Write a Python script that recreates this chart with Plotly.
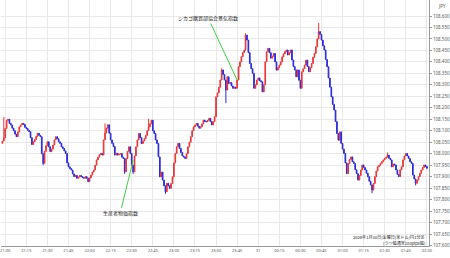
import pandas as pd
import plotly.graph_objects as go

# ---------------- data (USD/JPY 1-minute, 2026-01-30 20:58 -> 2026-01-31 02:00) ----------------
start_time = "2026-01-30 20:58"
first_open = 108.045
closes = [
    108.055, 108.070,                                                   # 20:58-20:59
    108.110, 108.145, 108.150, 108.132, 108.125, 108.111, 108.100, 108.085, 108.074, 108.095,  # 21:00
    108.117, 108.125, 108.132, 108.128, 108.115, 108.110, 108.102, 108.096, 108.070, 108.040,  # 21:10
    108.052, 108.062, 108.075, 108.089, 108.080, 108.074, 108.000, 107.958, 108.010, 108.035,  # 21:20
    108.052, 108.030, 108.009, 108.020, 108.038, 108.060, 108.074, 108.065, 108.052, 108.045,  # 21:30
    108.030, 108.023, 108.012, 108.001, 107.960, 107.943, 107.935, 107.929, 107.912, 107.900,  # 21:40
    107.905, 107.893, 107.898, 107.905, 107.900, 107.896, 107.893, 107.900, 107.893, 107.878,  # 21:50
    107.895, 107.907, 107.920, 107.929, 107.950, 107.973, 107.985, 107.996, 108.001, 107.994,  # 22:00
    108.060, 108.090, 108.111, 108.126, 108.089, 108.060, 108.045, 108.031, 107.994, 108.002,  # 22:10
    107.994, 107.998, 108.001, 107.985, 107.979, 107.921, 107.979, 108.010, 108.030, 108.001,  # 22:20
    107.950, 107.921, 107.990, 108.030, 108.060, 108.088, 108.070, 108.044, 108.055, 108.066,  # 22:30
    108.080, 108.100, 108.117, 108.130, 108.146, 108.100, 108.088, 108.060, 108.044, 107.986,  # 22:40
    107.899, 107.920, 107.885, 107.860, 107.834, 107.871, 107.860, 107.849, 107.870, 107.899,  # 22:50
    107.960, 108.001, 108.030, 108.045, 108.023, 108.005, 107.990, 107.986, 107.979, 108.000,  # 23:00
    108.030, 108.050, 108.074, 108.100, 108.117, 108.125, 108.132, 108.120, 108.111, 108.117,  # 23:10
    108.130, 108.146, 108.140, 108.139, 108.145, 108.154, 108.140, 108.125, 108.140, 108.161,  # 23:20
    108.248, 108.265, 108.290, 108.321, 108.365, 108.345, 108.321, 108.277, 108.335, 108.306,  # 23:30
    108.310, 108.295, 108.285, 108.290, 108.285, 108.321, 108.379, 108.400, 108.422, 108.440,  # 23:40
    108.451, 108.517, 108.495, 108.440, 108.393, 108.370, 108.350, 108.285, 108.300, 108.321,  # 23:50
    108.330, 108.318, 108.313, 108.269, 108.300, 108.400, 108.444, 108.459, 108.440, 108.416,  # 00:00
    108.425, 108.437, 108.400, 108.364, 108.375, 108.386, 108.400, 108.422, 108.435, 108.445,  # 00:10
    108.452, 108.430, 108.440, 108.452, 108.408, 108.380, 108.365, 108.335, 108.365, 108.320,  # 00:20
    108.285, 108.357, 108.370, 108.386, 108.408, 108.380, 108.357, 108.375, 108.393, 108.420,  # 00:30
    108.437, 108.466, 108.500, 108.532, 108.520, 108.495, 108.470, 108.452, 108.410, 108.379,  # 00:40
    108.330, 108.290, 108.248, 108.215, 108.190, 108.140, 108.088, 108.059, 108.095, 108.045,  # 00:50
    108.020, 108.001, 107.960, 107.913, 107.957, 107.975, 107.986, 107.965, 107.957, 107.930,  # 01:00
    107.913, 107.885, 107.905, 107.929, 107.951, 107.940, 107.929, 107.915, 107.900, 107.880,  # 01:10
    107.864, 107.842, 107.870, 107.900, 107.925, 107.943, 107.950, 107.958, 107.965, 107.973,  # 01:20
    107.980, 107.985, 107.994, 107.980, 107.973, 107.943, 107.955, 107.951, 107.929, 107.910,  # 01:30
    107.900, 107.930, 107.943, 107.973, 107.990, 108.001, 107.990, 107.979, 107.965, 107.958,  # 01:40
    107.907, 107.890, 107.871, 107.885, 107.900, 107.915, 107.929, 107.940, 107.951, 107.945,  # 01:50
    107.936,                                                            # 02:00
]
# notable wicks beyond the candle body (index in closes -> price)
wick_highs = {1: 108.160, 73: 108.132, 104: 108.152, 156: 108.372, 173: 108.525, 225: 108.570, 274: 108.005}
wick_lows = {29: 107.950, 87: 107.912, 93: 107.912, 116: 107.825, 159: 108.220, 263: 107.828, 294: 107.862}

tick_times = ["2026-01-30 21:00", "2026-01-30 21:15", "2026-01-30 21:30", "2026-01-30 21:45",
              "2026-01-30 22:00", "2026-01-30 22:15", "2026-01-30 22:30", "2026-01-30 22:45",
              "2026-01-30 23:00", "2026-01-30 23:15", "2026-01-30 23:30", "2026-01-30 23:45",
              "2026-01-31 00:00", "2026-01-31 00:15", "2026-01-31 00:30", "2026-01-31 00:45",
              "2026-01-31 01:00", "2026-01-31 01:15", "2026-01-31 01:30", "2026-01-31 01:45",
              "2026-01-31 02:00"]
tick_text = ["21:00", "21:15", "21:30", "21:45", "22:00", "22:15", "22:30", "22:45", "23:00",
             "23:15", "23:30", "23:45", "31", "00:15", "00:30", "00:45", "01:00", "01:15",
             "01:30", "01:45", "02:00"]
price_ticks = [round(107.60 + 0.05 * i, 3) for i in range(21)]

event_names = ["生産者物価指数", "シカゴ購買部協会景気指数"]
event_times = ["2026-01-30 22:31", "2026-01-30 23:45"]
event_prices = [107.971, 108.321]

title_line1 = "2026年1月30日(金曜日)米ドル/円1分足"
title_line2 = "(ラツ幅通常100pips幅)"

# ---------------- build OHLC ----------------
times = pd.date_range(start=start_time, periods=len(closes), freq="min")
opens = [first_open] + closes[:-1]
highs, lows = [], []
for i, (o, c) in enumerate(zip(opens, closes)):
    highs.append(max(o, c, wick_highs.get(i, 0)))
    lows.append(min(o, c, wick_lows.get(i, 1e9)))

UP = "#e8383a"
DOWN = "#2c2cd8"
GRID = "#e9e9e9"
AX = "#9a9a9a"
LBL = "#555555"

fig = go.Figure()
fig.add_trace(go.Candlestick(
    x=times, open=opens, high=highs, low=lows, close=closes,
    increasing=dict(line=dict(color=UP, width=1), fillcolor=UP),
    decreasing=dict(line=dict(color=DOWN, width=1), fillcolor=DOWN),
    whiskerwidth=0, showlegend=False, hoverinfo="skip",
))

annos = []
offsets = [(-13, 53), (-29, -62)]
for name, t, p, (ax, ay) in zip(event_names, event_times, event_prices, offsets):
    annos.append(dict(x=t, y=p, xref="x", yref="y", text=name, showarrow=True,
                      arrowhead=0, arrowwidth=1, arrowcolor="#3fd13f", ax=ax, ay=ay,
                      font=dict(size=5, color="#222", family="Noto Sans CJK JP")))
annos.append(dict(x=1.016, y=0.976, xref="paper", yref="paper", text="JPY", showarrow=False,
                  xanchor="left", yanchor="middle",
                  font=dict(size=4.5, color=LBL, family="Noto Sans")))
annos.append(dict(x=0.995, y=(246 - 237.4) / 246, xref="paper", yref="paper", text=title_line1,
                  showarrow=False, xanchor="right", yanchor="middle",
                  font=dict(size=4.1, color="#222", family="Noto Sans CJK JP")))
annos.append(dict(x=0.995, y=(246 - 243.0) / 246, xref="paper", yref="paper", text=title_line2,
                  showarrow=False, xanchor="right", yanchor="middle",
                  font=dict(size=4.1, color="#222", family="Noto Sans CJK JP")))

fig.update_layout(
    width=450, height=258, autosize=False,
    margin=dict(l=0, r=20, t=0, b=12, pad=0),
    paper_bgcolor="white", plot_bgcolor="white",
    annotations=annos,
    xaxis=dict(
        type="date", range=["2026-01-30 20:57:00", "2026-01-31 02:01:30"],
        tickmode="array", tickvals=tick_times, ticktext=tick_text,
        showgrid=True, gridcolor=GRID, gridwidth=1,
        showline=True, linecolor=AX, linewidth=1,
        ticks="", tickfont=dict(size=4, color=LBL, family="Noto Sans"),
        ticklabeloverflow="allow",
        rangeslider=dict(visible=False), zeroline=False,
    ),
    yaxis=dict(
        side="right", range=[107.5978, 108.6697],
        tickmode="array", tickvals=price_ticks, tickformat=".3f",
        showgrid=True, gridcolor=GRID, gridwidth=1,
        showline=True, linecolor=AX, linewidth=1,
        ticks="outside", ticklen=2, tickcolor=AX,
        tickfont=dict(size=4.5, color=LBL, family="Noto Sans"), zeroline=False,
    ),
)

fig.write_html("out.html")
